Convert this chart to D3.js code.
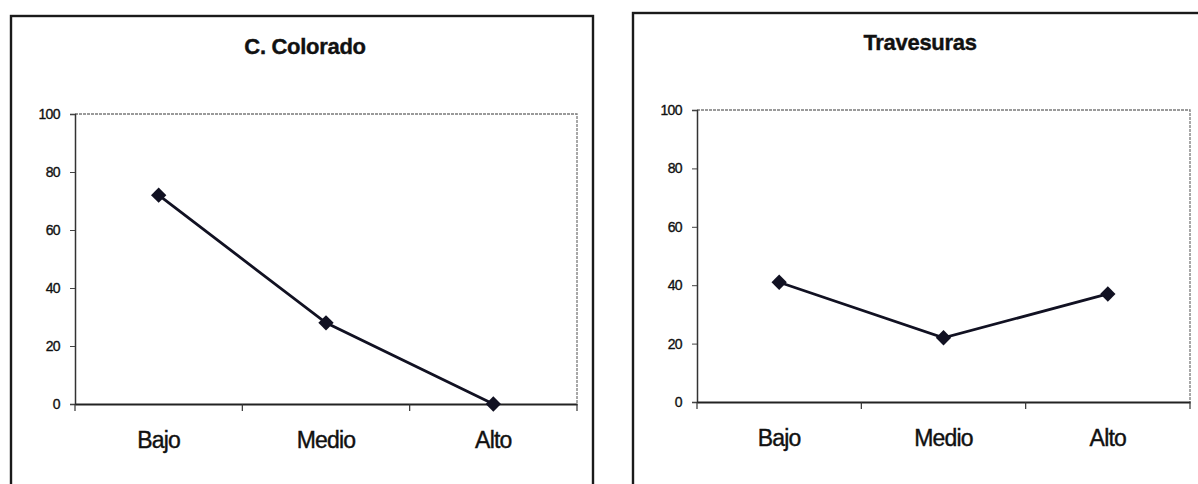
<!DOCTYPE html>
<html>
<head>
<meta charset="utf-8">
<script src="https://cdn.jsdelivr.net/npm/d3@7"></script>
<style>
  html, body { margin: 0; padding: 0; background: #ffffff; }
  svg { display: block; font-family: "Liberation Sans", Arial, sans-serif; }
</style>
</head>
<body>
<svg id="chart" width="1198" height="484"></svg>
<script>
// Categories shared by both panels
const categories = ["Bajo", "Medio", "Alto"];
// Values per panel
const coloradoValues = [72, 28, 0];
const travesurasValues = [41, 22, 37];
// Panel titles
const titles = ["C. Colorado", "Travesuras"];
// Y axis tick labels
const yTicks = [0, 20, 40, 60, 80, 100];

const svg = d3.select("#chart");

const panels = [
  { title: titles[0], values: coloradoValues,
    frame: { x: 11, y: 16, w: 582, h: 490 },
    plot: { left: 75, right: 577, top: 114, bottom: 404 },
    titleX: 305, titleY: 54 },
  { title: titles[1], values: travesurasValues,
    frame: { x: 633, y: 13, w: 590, h: 490 },
    plot: { left: 697, right: 1190, top: 110, bottom: 402 },
    titleX: 920, titleY: 50 }
];

panels.forEach(p => {
  const g = svg.append("g");

  // outer chart frame
  g.append("rect")
    .attr("x", p.frame.x).attr("y", p.frame.y)
    .attr("width", p.frame.w).attr("height", p.frame.h)
    .attr("fill", "#ffffff").attr("stroke", "#1a1a1a").attr("stroke-width", 2.4);

  // title
  g.append("text")
    .attr("x", p.titleX).attr("y", p.titleY)
    .attr("text-anchor", "middle")
    .attr("font-size", 22).attr("font-weight", "bold")
    .attr("letter-spacing", -0.3)
    .attr("fill", "#111").attr("stroke", "#111").attr("stroke-width", 0.4)
    .text(p.title);

  const x = d3.scaleBand().domain(categories)
    .range([p.plot.left, p.plot.right]).padding(0);
  const y = d3.scaleLinear().domain([0, 100])
    .range([p.plot.bottom, p.plot.top]);

  // plot area border (top and right, light)
  g.append("path")
    .attr("d", `M${p.plot.left},${p.plot.top}H${p.plot.right}V${p.plot.bottom}`)
    .attr("fill", "none").attr("stroke", "#7a7a7a").attr("stroke-width", 1.3)
    .attr("stroke-dasharray", "3,1");

  // y axis
  const yAxis = d3.axisLeft(y).tickValues(yTicks).tickSize(5).tickPadding(10);
  const yg = g.append("g").attr("transform", `translate(${p.plot.left},0)`).call(yAxis);
  yg.select(".domain").attr("stroke", "#333").attr("stroke-width", 1.5);
  yg.selectAll(".tick line").attr("stroke", "#444");
  yg.selectAll(".tick text")
    .attr("font-size", 14).attr("letter-spacing", -0.6)
    .attr("fill", "#111").attr("stroke", "#111").attr("stroke-width", 0.35)
    .attr("font-family", "'Liberation Sans', Arial, sans-serif");

  // x axis: ticks between categories
  const xAxis = d3.axisBottom(x).tickSize(0).tickPadding(28);
  const xg = g.append("g").attr("transform", `translate(0,${p.plot.bottom})`).call(xAxis);
  xg.select(".domain").attr("stroke", "#222").attr("stroke-width", 2.2);
  xg.selectAll(".tick text")
    .attr("font-size", 23).attr("letter-spacing", -0.8)
    .attr("fill", "#111").attr("stroke", "#111").attr("stroke-width", 0.4)
    .attr("font-family", "'Liberation Sans', Arial, sans-serif");

  const boundaries = categories.map(c => x(c)).concat([x.range()[1]]);
  g.selectAll("line.xb").data(boundaries).enter().append("line")
    .attr("class", "xb")
    .attr("x1", d => d).attr("x2", d => d)
    .attr("y1", p.plot.bottom).attr("y2", p.plot.bottom + 7)
    .attr("stroke", "#333").attr("stroke-width", 1.2);

  // data line
  const line = d3.line()
    .x((d, i) => x(categories[i]) + x.bandwidth() / 2)
    .y(d => y(d));
  g.append("path").datum(p.values)
    .attr("d", line)
    .attr("fill", "none").attr("stroke", "#111122").attr("stroke-width", 2.8);

  // diamond markers
  const diamond = d3.symbol().type(d3.symbolDiamond2).size(150);
  g.selectAll("path.mk").data(p.values).enter().append("path")
    .attr("class", "mk")
    .attr("transform", (d, i) => `translate(${x(categories[i]) + x.bandwidth() / 2},${y(d)})`)
    .attr("d", diamond)
    .attr("fill", "#111122");
});
</script>
</body>
</html>
